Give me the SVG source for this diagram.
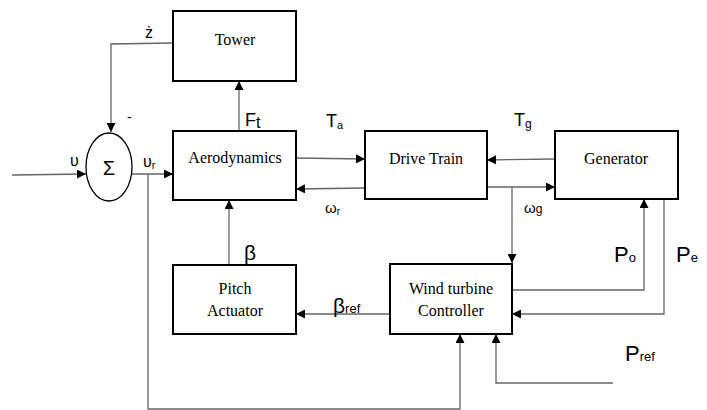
<svg xmlns="http://www.w3.org/2000/svg" width="707" height="410" viewBox="0 0 707 410">
<defs>
<marker id="ah" viewBox="0 0 10 10" refX="10" refY="5" markerWidth="9" markerHeight="9" markerUnits="userSpaceOnUse" orient="auto">
<path d="M0,0 L10,5 L0,10 z" fill="#000"/>
</marker>
</defs>
<style>
.box{fill:#fff;stroke:#000;stroke-width:2}
.bt{font-family:"Liberation Serif",serif;font-size:16px;fill:#000;text-anchor:middle}
.ca{fill:none;stroke:#666;stroke-width:1.3;marker-end:url(#ah)}
.lb{font-family:"Liberation Sans",sans-serif;fill:#000}
</style>
<rect width="707" height="410" fill="#fff"/>
<g id="connectors">
<polyline class="ca" points="12,175 86,174"/>
<polyline class="ca" points="132,174 173,174"/>
<polyline class="ca" points="173,43 111,44 111,132"/>
<polyline class="ca" points="239,131 239,81"/>
<polyline class="ca" points="296,158 365,159"/>
<polyline class="ca" points="365,188 296,189"/>
<polyline class="ca" points="555,159 487,160"/>
<polyline class="ca" points="487,187 555,187"/>
<polyline class="ca" points="512,187 512,263"/>
<polyline class="ca" points="229,265 229,200"/>
<polyline class="ca" points="390,314 296,314"/>
<polyline class="ca" points="512,290 644,290 644,199"/>
<polyline class="ca" points="664,199 664,314 512,314"/>
<polyline class="ca" points="613,383 496,383 496,334"/>
<polyline class="ca" points="148,174 148,409 460,409 460,334"/>
</g>
<g id="sum">
<ellipse cx="109" cy="167" rx="23" ry="34" fill="#fff" stroke="#000" stroke-width="1.3"/>
<text x="109" y="175" font-family="Liberation Sans,sans-serif" font-size="20" text-anchor="middle">Σ</text>
</g>
<g id="tower"><rect class="box" x="173" y="11" width="123" height="70"/><text class="bt" x="235" y="45">Tower</text></g>
<g id="aero"><rect class="box" x="173" y="131" width="123" height="69"/><text class="bt" x="235" y="163">Aerodynamics</text></g>
<g id="drive"><rect class="box" x="365" y="131" width="122" height="68"/><text class="bt" x="426" y="164">Drive Train</text></g>
<g id="gen"><rect class="box" x="555" y="131" width="123" height="68"/><text class="bt" x="616" y="164">Generator</text></g>
<g id="pitch"><rect class="box" x="173" y="265" width="123" height="69"/><text class="bt" x="235" y="294">Pitch</text><text class="bt" x="235" y="316">Actuator</text></g>
<g id="ctrl"><rect class="box" x="390" y="264" width="122" height="70"/><text class="bt" x="451" y="294">Wind turbine</text><text class="bt" x="451" y="316">Controller</text></g>
<g id="labels">
<text class="lb" x="70" y="166" style="font-size:16px">υ</text>
<text class="lb" x="143" y="167" style="font-size:16px">υ<tspan dy="2" style="font-size:11px">r</tspan></text>
<text class="lb" x="145" y="38" style="font-size:16px">ż</text>
<text class="lb" x="127" y="122" style="font-size:14px">-</text>
<text class="lb" x="245" y="126" style="font-size:18px">F<tspan dy="2" style="font-size:16px">t</tspan></text>
<text class="lb" x="326" y="127" style="font-size:18px">T<tspan dy="2" style="font-size:11px">a</tspan></text>
<text class="lb" x="514" y="126" style="font-size:18px">T<tspan dy="2" style="font-size:12px">g</tspan></text>
<text class="lb" x="325" y="213" style="font-size:15px">ω<tspan dy="2" style="font-size:10px">r</tspan></text>
<text class="lb" x="524" y="213" style="font-size:15px">ω<tspan style="font-size:12px">g</tspan></text>
<text class="lb" x="244" y="260" style="font-size:21px">β</text>
<text class="lb" x="333" y="313" style="font-size:21px">β<tspan style="font-size:13px">ref</tspan></text>
<text class="lb" x="614" y="262" style="font-size:22px">P<tspan style="font-size:13px">o</tspan></text>
<text class="lb" x="676" y="262" style="font-size:22px">P<tspan style="font-size:13px">e</tspan></text>
<text class="lb" x="625" y="361" style="font-size:22px">P<tspan style="font-size:13px">ref</tspan></text>
</g>
</svg>
